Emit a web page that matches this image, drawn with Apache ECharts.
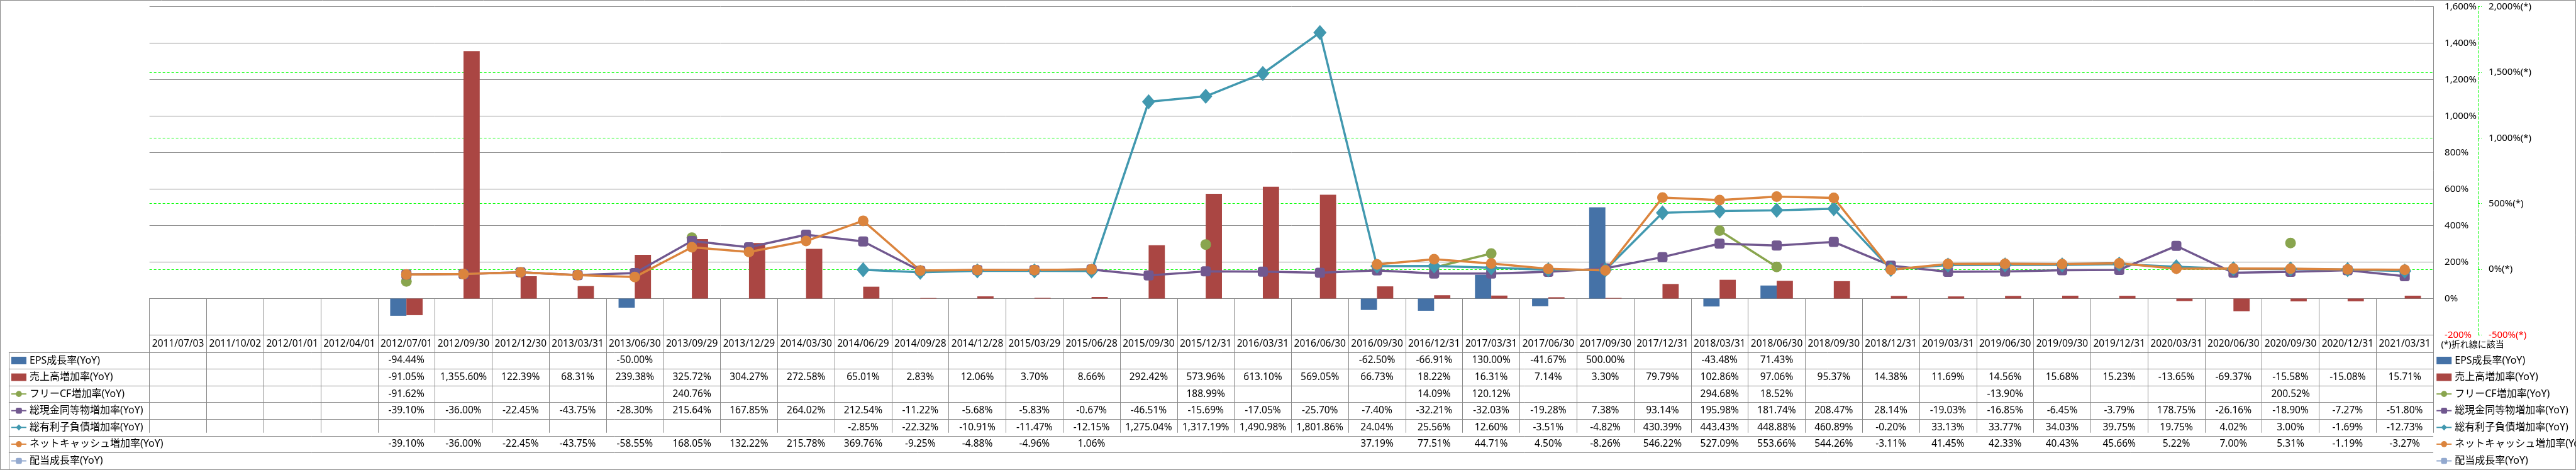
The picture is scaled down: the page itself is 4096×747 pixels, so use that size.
<!DOCTYPE html>
<html>
<head>
<meta charset="utf-8">
<script src="https://cdn.jsdelivr.net/npm/echarts@6/dist/echarts.min.js"></script>
<style>
html,body{margin:0;padding:0;background:#fff;}
#chart{width:4096px;height:747px;}
</style>
</head>
<body>
<div id="chart"></div>
<script>
// ---------- data ----------
const dates = ['2011/07/03','2011/10/02','2012/01/01','2012/04/01','2012/07/01','2012/09/30','2012/12/30','2013/03/31','2013/06/30','2013/09/29','2013/12/29','2014/03/30','2014/06/29','2014/09/28','2014/12/28','2015/03/29','2015/06/28','2015/09/30','2015/12/31','2016/03/31','2016/06/30','2016/09/30','2016/12/31','2017/03/31','2017/06/30','2017/09/30','2017/12/31','2018/03/31','2018/06/30','2018/09/30','2018/12/31','2019/03/31','2019/06/30','2019/09/30','2019/12/31','2020/03/31','2020/06/30','2020/09/30','2020/12/31','2021/03/31'];

const seriesNames = ['EPS成長率(YoY)','売上高増加率(YoY)','フリーCF増加率(YoY)','総現金同等物増加率(YoY)','総有利子負債増加率(YoY)','ネットキャッシュ増加率(YoY)','配当成長率(YoY)'];

const epsGrowth = [null,null,null,null,-94.44,null,null,null,-50.00,null,null,null,null,null,null,null,null,null,null,null,null,-62.50,-66.91,130.00,-41.67,500.00,null,-43.48,71.43,null,null,null,null,null,null,null,null,null,null,null];

const salesGrowth = [null,null,null,null,-91.05,1355.60,122.39,68.31,239.38,325.72,304.27,272.58,65.01,2.83,12.06,3.70,8.66,292.42,573.96,613.10,569.05,66.73,18.22,16.31,7.14,3.30,79.79,102.86,97.06,95.37,14.38,11.69,14.56,15.68,15.23,-13.65,-69.37,-15.58,-15.08,15.71];

const fcfGrowth = [null,null,null,null,-91.62,null,null,null,null,240.76,null,null,null,null,null,null,null,null,188.99,null,null,null,14.09,120.12,null,null,null,294.68,18.52,null,null,null,-13.90,null,null,null,null,200.52,null,null];

const cashGrowth = [null,null,null,null,-39.10,-36.00,-22.45,-43.75,-28.30,215.64,167.85,264.02,212.54,-11.22,-5.68,-5.83,-0.67,-46.51,-15.69,-17.05,-25.70,-7.40,-32.21,-32.03,-19.28,7.38,93.14,195.98,181.74,208.47,28.14,-19.03,-16.85,-6.45,-3.79,178.75,-26.16,-18.90,-7.27,-51.80];

const debtGrowth = [null,null,null,null,null,null,null,null,null,null,null,null,-2.85,-22.32,-10.91,-11.47,-12.15,1275.04,1317.19,1490.98,1801.86,24.04,25.56,12.60,-3.51,-4.82,430.39,443.43,448.88,460.89,-0.20,33.13,33.77,34.03,39.75,19.75,4.02,3.00,-1.69,-12.73];

const netCashGrowth = [null,null,null,null,-39.10,-36.00,-22.45,-43.75,-58.55,168.05,132.22,215.78,369.76,-9.25,-4.88,-4.96,1.06,null,null,null,null,37.19,77.51,44.71,4.50,-8.26,546.22,527.09,553.66,544.26,-3.11,41.45,42.33,40.43,45.66,5.22,7.00,5.31,-1.19,-3.27];

const dividendGrowth = dates.map(() => null);

const leftTicks = {min: -200, max: 1600, interval: 200};
const rightTicks = {min: -500, max: 2000, interval: 500};
const rightNote = '(*)折れ線に該当';

// ---------- layout ----------
const S = 0.697;
const gridL = 341 * S, gridR = 5551 * S, gridT = 15 * S, gridB = 764 * S;
const headBottom = 803 * S, tableBottom = 1070 * S;
const rowH = (tableBottom - headBottom) / 7;
const headCenterOff = (headBottom - gridB) / 2;
const FONT = "'Noto Sans','Noto Sans CJK JP',sans-serif";
const GRAY = '#888888';
const colors = ['#4572A7','#AA4643','#89A54E','#71588F','#4198AF','#DB843D','#93A9CF'];

function fmtPct(v){
  if (v === null || v === undefined) return '';
  return v.toLocaleString('en-US',{minimumFractionDigits:2, maximumFractionDigits:2}) + '%';
}

const tableRows = [epsGrowth, salesGrowth, fcfGrowth, cashGrowth, debtGrowth, netCashGrowth, dividendGrowth];

const xAxes = [{
  type:'category', data: dates, position:'bottom', boundaryGap:true,
  axisLine:{show:true, lineStyle:{color:GRAY}},
  axisTick:{show:true, interval:0, length: tableBottom - gridB, lineStyle:{color:GRAY}},
  axisLabel:{interval:0, margin: headCenterOff, verticalAlign:'middle', fontSize:15.5, color:'#000', fontFamily:FONT},
  splitLine:{show:false}
}];
tableRows.forEach((row, k) => {
  xAxes.push({
    type:'category', data: dates, position:'bottom', boundaryGap:true,
    axisLine:{show:false}, axisTick:{show:false}, splitLine:{show:false},
    axisLabel:{interval:0, margin: (headBottom - gridB) + rowH*(k+0.5), verticalAlign:'middle', fontSize:15.5, color:'#000', fontFamily:FONT,
      formatter: (v, i) => fmtPct(row[i])}
  });
});

const lineCommon = {
  type:'line', yAxisIndex:1, xAxisIndex:0, connectNulls:false, showSymbol:true, showAllSymbol:true,
  emphasis:{disabled:true}
};

const series = [
  {name:seriesNames[0], type:'bar', data:epsGrowth, yAxisIndex:0, barWidth:25.8, barGap:'0%', itemStyle:{color:colors[0]}},
  {name:seriesNames[1], type:'bar', data:salesGrowth, yAxisIndex:0, barWidth:25.8, barGap:'0%', itemStyle:{color:colors[1]}},
  Object.assign({}, lineCommon, {name:seriesNames[2], data:fcfGrowth, symbol:'circle', symbolSize:17, itemStyle:{color:colors[2]}, lineStyle:{width:3.5, color:colors[2]}}),
  Object.assign({}, lineCommon, {name:seriesNames[3], data:cashGrowth, symbol:'roundRect', symbolSize:16, itemStyle:{color:colors[3]}, lineStyle:{width:3.5, color:colors[3]}}),
  Object.assign({}, lineCommon, {name:seriesNames[4], data:debtGrowth, symbol:'diamond', symbolSize:[21,24], itemStyle:{color:colors[4]}, lineStyle:{width:3.5, color:colors[4]}}),
  Object.assign({}, lineCommon, {name:seriesNames[5], data:netCashGrowth, symbol:'circle', symbolSize:17, itemStyle:{color:colors[5]}, lineStyle:{width:3.5, color:colors[5]}}),
  Object.assign({}, lineCommon, {name:seriesNames[6], data:dividendGrowth, symbol:'roundRect', symbolSize:16, itemStyle:{color:colors[6]}, lineStyle:{width:3.5, color:colors[6]}})
];

const legendBase = {
  orient:'vertical', selectedMode:false, itemWidth:24, itemHeight:12, padding:0,
  itemGap: rowH - 16,
  textStyle:{fontSize:16, lineHeight:16, color:'#000', fontFamily:FONT},
  data: seriesNames.map((n,i) => i<2 ? {name:n, icon:'rect'} : {name:n})
};
const legendTop = headBottom + rowH/2 - 8;

// table lines and frame
const graphics = [];
graphics.push({type:'rect', shape:{x:0.5, y:0.5, width:4095, height:746}, style:{fill:null, stroke:GRAY, lineWidth:1}, silent:true});
for (let k=0; k<=7; k++){
  const y = Math.round(headBottom + rowH*k) + 0.5;
  graphics.push({type:'line', shape:{x1:20*S, y1:y, x2:gridR, y2:y}, style:{stroke:GRAY, lineWidth:1}, silent:true});
}
graphics.push({type:'line', shape:{x1:Math.round(20*S)+0.5, y1:headBottom, x2:Math.round(20*S)+0.5, y2:tableBottom}, style:{stroke:GRAY, lineWidth:1}, silent:true});
graphics.push({type:'text', x:5569*S, y:(headBottom+gridB)/2 + 2, style:{text:rightNote, fontSize:14, fill:'#000', verticalAlign:'middle', fontFamily:FONT}, silent:true});

const option = {
  animation:false,
  backgroundColor:'#fff',
  textStyle:{fontFamily:FONT},
  grid:{left:gridL, right:4096-gridR, top:gridT, bottom:747-gridB, containLabel:false},
  legend:[
    Object.assign({}, legendBase, {left:17, top:legendTop}),
    Object.assign({}, legendBase, {left:5557*S, top:legendTop})
  ],
  xAxis: xAxes,
  yAxis:[
    {type:'value', position:'right', min:leftTicks.min, max:leftTicks.max, interval:leftTicks.interval,
      axisLine:{show:true, lineStyle:{color:GRAY}}, axisTick:{show:false},
      axisLabel:{margin:18, fontSize:15, fontFamily:FONT, color:(v)=> (Number(v)<0?'#FF0000':'#000'),
        formatter:(v)=> Number(v).toLocaleString('en-US') + '%'},
      splitLine:{show:true, lineStyle:{color:GRAY, width:1}}},
    {type:'value', position:'right', offset:71, min:rightTicks.min, max:rightTicks.max, interval:rightTicks.interval,
      axisLine:{show:true, lineStyle:{color:'#00FF00', type:[4,3]}},
      axisTick:{show:true, length:6, lineStyle:{color:'#00FF00', type:[3,2]}},
      axisLabel:{margin:17, fontSize:15, fontFamily:FONT, color:(v)=> (Number(v)<0?'#FF0000':'#000'),
        formatter:(v)=> Number(v).toLocaleString('en-US') + '%(*)'},
      splitLine:{show:true, showMinLine:false, showMaxLine:false, lineStyle:{color:'#00FF00', type:[4,3], width:1}}}
  ],
  graphic: graphics,
  series: series
};

const chart = echarts.init(document.getElementById('chart'), null, {renderer:'canvas'});
chart.setOption(option);
</script>
</body>
</html>
